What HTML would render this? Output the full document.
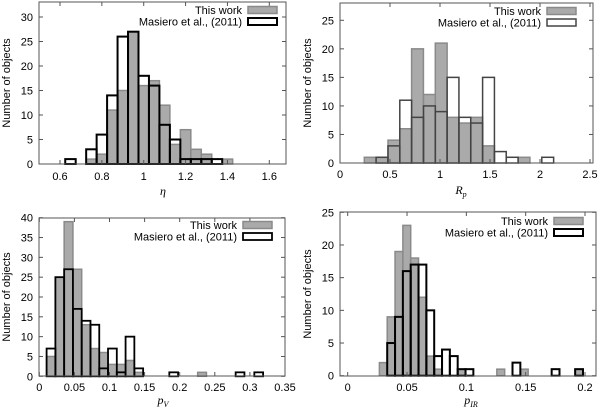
<!DOCTYPE html>
<html><head><meta charset="utf-8"><style>
body{margin:0;background:#fff;width:600px;height:409px;overflow:hidden}
svg text{font-family:"Liberation Sans",sans-serif;font-size:11px;fill:#000}
.it{font-family:"Liberation Serif",serif;font-style:italic;font-size:12px}
</style></head><body>
<svg id="c" width="600" height="409" viewBox="0 0 600 409" xmlns="http://www.w3.org/2000/svg"></svg>
<script>
// Panel 1: eta
const p1Left=[0.625,0.725,0.775,0.825,0.875,0.925,0.975,1.025,1.075,1.125,1.175,1.225,1.275,1.325,1.375];
const p1This=[0,1,2,11,15,27,16,17,12,4,7,3,2,0,1];
const p1Mas=[1,3,6,14,26,27,18,16,8,5,1,1,1,1,0];
const p1Width=0.05;
const p1XTicks=[0.6,0.8,1,1.2,1.4,1.6];
const p1YTicks=[0,5,10,15,20,25,30];
// Panel 2: R_p
const p2Left=[0.243,0.361,0.480,0.598,0.716,0.835,0.953,1.071,1.189,1.308,1.426,1.544,1.663,1.781,2.018];
const p2This=[1,1,4,6,20,12,21,8,7,8,3,0,0,1,0];
const p2Mas=[0,1,3,11,8,10,9,15,8,7,15,2,1,0,1];
const p2Width=0.1183;
const p2XTicks=[0,0.5,1,1.5,2,2.5];
const p2YTicks=[0,5,10,15,20,25];
// Panel 3: p_V
const p3Left=[0.0104,0.0229,0.0354,0.0479,0.0604,0.0729,0.0854,0.0979,0.1104,0.1229,0.1354,0.1852,0.2256,0.2797,0.3063];
const p3This=[5,25,39,27,13,7,6,3,3,4,1,0,1,0,0];
const p3Mas=[7,25,27,17,14,13,2,7,1,10,2,1,0,1,1];
const p3Width=0.0125;
const p3XTicks=[0,0.05,0.1,0.15,0.2,0.25,0.3,0.35];
const p3YTicks=[0,5,10,15,20,25,30,35,40];
// Panel 4: p_IR
const p4Left=[0.0267,0.0333,0.0399,0.0465,0.0531,0.0597,0.0663,0.0729,0.0795,0.0861,0.0927,0.0993,0.1257,0.1389,0.1455,0.1719,0.1917];
const p4This=[2,9,19,23,18,12,3,1,0,0,1,0,1,0,1,0,1];
const p4Mas=[0,5,9,16,17,17,10,3,4,3,1,1,0,2,0,1,1];
const p4Width=0.0066;
const p4XTicks=[0,0.05,0.1,0.15,0.2];
const p4YTicks=[0,5,10,15,20,25];

const svg=document.getElementById('c');
const NS='http://www.w3.org/2000/svg';
function mk(tag,attrs,parent){const e=document.createElementNS(NS,tag);for(const k in attrs)e.setAttribute(k,attrs[k]);(parent||svg).appendChild(e);return e;}
function fmt(v){return String(+v.toFixed(3));}

function panel(cfg){
  const g=mk('g',{});
  
  
  const X=v=>cfg.xp0+(v-cfg.xv0)*(cfg.xp1-cfg.xp0)/(cfg.xv1-cfg.xv0);
  const Y=v=>cfg.yp0+v*(cfg.yp1-cfg.yp0)/cfg.yv1;
  cfg.left.forEach((l,i)=>{if(cfg.mas[i]>0){const r=mk('rect',{x:X(l),y:Y(cfg.mas[i]),width:X(l+cfg.w)-X(l),height:Y(0)-Y(cfg.mas[i]),fill:'#fff'},g);
    }});
  cfg.left.forEach((l,i)=>{if(cfg.thisv[i]>0){const r=mk('rect',{x:X(l),y:Y(cfg.thisv[i]),width:X(l+cfg.w)-X(l),height:Y(0)-Y(cfg.thisv[i]),fill:'#aaa',stroke:'#8a8a8a','stroke-width':1.5},g);
    }});
  cfg.left.forEach((l,i)=>{if(cfg.mas[i]>0){const r=mk('rect',{x:X(l),y:Y(cfg.mas[i]),width:X(l+cfg.w)-X(l),height:Y(0)-Y(cfg.mas[i]),fill:'none',stroke:cfg.mc,'stroke-width':cfg.mw},g);
    }});
  const f=mk('rect',{x:cfg.L,y:cfg.T,width:cfg.R-cfg.L,height:cfg.B-cfg.T,fill:'none',stroke:'#555','stroke-width':1},g);
  
  cfg.xt.forEach(v=>{const x=X(v);
    mk('line',{x1:x,x2:x,y1:cfg.B,y2:cfg.B-4,stroke:'#555'},g);mk('line',{x1:x,x2:x,y1:cfg.T,y2:cfg.T+4,stroke:'#555'},g);
    const t=mk('text',{x:x,y:cfg.xly,'text-anchor':'middle'},g);t.textContent=fmt(v);
    });
  cfg.yt.forEach(v=>{const y=Y(v);
    mk('line',{x1:cfg.L,x2:cfg.L+4,y1:y,y2:y,stroke:'#555'},g);mk('line',{x1:cfg.R,x2:cfg.R-4,y1:y,y2:y,stroke:'#555'},g);
    const t=mk('text',{x:cfg.L-6,y:y+4,'text-anchor':'end'},g);t.textContent=fmt(v);
    });
  const yl=mk('text',{x:0,y:0,'text-anchor':'middle',transform:`translate(${cfg.L-29},${(cfg.T+cfg.B)/2}) rotate(-90)`},g);
  yl.textContent='Number of objects';
  const xl=mk('text',{x:cfg.xtx,y:cfg.xty,'text-anchor':'middle',class:'it'},g);
  xl.innerHTML=cfg.xlabel;
  const t1=mk('text',{x:cfg.lx,y:cfg.ly+4,'text-anchor':'end'},g);t1.textContent='This work';
  
  mk('rect',{x:cfg.lx+6,y:cfg.ly-3.5,width:29,height:7,fill:'#aaa',stroke:'#8a8a8a','stroke-width':1.5},g);
  const t2=mk('text',{x:cfg.lx,y:cfg.ly+15.5,'text-anchor':'end'},g);t2.textContent='Masiero et al., (2011)';
  
  mk('rect',{x:cfg.lx+6,y:cfg.ly+8,width:29,height:7,fill:'#fff',stroke:cfg.mc,'stroke-width':cfg.mw},g);
}
panel({name:'eta-histogram',left:p1Left,thisv:p1This,mas:p1Mas,w:p1Width,xt:p1XTicks,yt:p1YTicks,
  L:39,R:286,T:2,B:164,xv0:0.6,xp0:60,xv1:1.6,xp1:269.3,yp0:164,yp1:17,yv1:30,mc:'#000',mw:2,
  xly:180,xtx:163,xty:195,xlabel:'η',lx:242,ly:10});
panel({name:'rp-histogram',left:p2Left,thisv:p2This,mas:p2Mas,w:p2Width,xt:p2XTicks,yt:p2YTicks,
  L:340,R:593,T:3,B:163,xv0:0,xp0:340,xv1:2.5,xp1:590,yp0:163,yp1:20.3,yv1:25,mc:'#444',mw:1.5,
  xly:178,xtx:461,xty:194,xlabel:'R<tspan dy="3" font-size="8">p</tspan>',lx:541,ly:11});
panel({name:'pv-histogram',left:p3Left,thisv:p3This,mas:p3Mas,w:p3Width,xt:p3XTicks,yt:p3YTicks,
  L:39,R:285,T:218,B:376,xv0:0,xp0:39.3,xv1:0.35,xp1:285,yp0:376.3,yp1:217.7,yv1:40,mc:'#000',mw:1.8,
  xly:391,xtx:163,xty:404,xlabel:'p<tspan dy="3" font-size="8">V</tspan>',lx:237,ly:225});
panel({name:'pir-histogram',left:p4Left,thisv:p4This,mas:p4Mas,w:p4Width,xt:p4XTicks,yt:p4YTicks,
  L:340,R:596,T:212,B:376,xv0:0,xp0:347.7,xv1:0.2,xp1:585,yp0:375.7,yp1:212.3,yv1:25,mc:'#000',mw:2,
  xly:391,xtx:471,xty:404,xlabel:'p<tspan dy="3" font-size="8">IR</tspan>',lx:548,ly:221});
</script>
</body></html>
